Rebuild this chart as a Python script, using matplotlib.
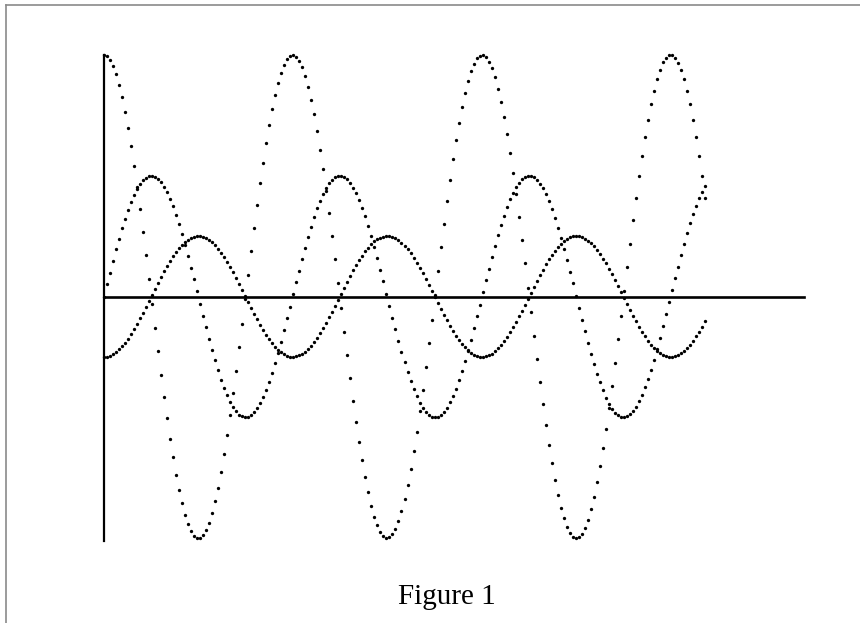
import numpy as np
import matplotlib
matplotlib.use("Agg")
import matplotlib.pyplot as plt
from matplotlib.lines import Line2D

# ---- data ----
# the three dotted waves over t = 0 .. 20 (about 3.18 periods), sampled every 0.1
t_start, t_stop, t_step = 0.0, 20.0, 0.1
amplitudes = [4.0, 2.0, 1.0]          # large, medium, small wave
wave_kinds = ["cos", "sin", "-cos"]   # large starts at max, medium at 0 rising, small at min
caption = "Figure 1"
x_axis_end = 23.3
y_axis_bounds = (-4.05, 4.0)

t = np.arange(t_start, t_stop + t_step / 2, t_step)
kind_funcs = {"cos": np.cos, "sin": np.sin, "-cos": lambda v: -np.cos(v)}

W, H, DPI = 860, 623, 100
fig = plt.figure(figsize=(W / DPI, H / DPI), dpi=DPI)
ax = fig.add_axes([0, 0, 1, 1])

# pixel mapping: t=0 -> x=104 px, 30.05 px per unit; v=0 -> y=296.5 px, 60.375 px per unit
px_per_t = 30.05
px_per_v = 60.375
x0_px, y0_px = 104.0, 296.5
ax.set_xlim(-x0_px / px_per_t, (W - x0_px) / px_per_t)
ax.set_ylim((y0_px - H) / px_per_v, y0_px / px_per_v)

for amp, kind in zip(amplitudes, wave_kinds):
    ax.plot(t, amp * kind_funcs[kind](t), linestyle="none", marker="o",
            markersize=2.4, markeredgewidth=0, color="black")

# axes lines through the origin
for side in ["top", "right"]:
    ax.spines[side].set_visible(False)
ax.spines["left"].set_position(("data", 0))
ax.spines["bottom"].set_position(("data", 0))
ax.spines["left"].set_bounds(*y_axis_bounds)
ax.spines["bottom"].set_bounds(0, x_axis_end)
ax.spines["left"].set_linewidth(1.6)
ax.spines["bottom"].set_linewidth(1.9)
ax.set_xticks([])
ax.set_yticks([])
ax.patch.set_alpha(0)

# page frame (scan border)
fig.add_artist(Line2D([5.5 / W, 5.5 / W], [0, 1 - 4.5 / H], transform=fig.transFigure,
                      color="#8a8a8a", linewidth=1.2))
fig.add_artist(Line2D([5.5 / W, 1], [1 - 4.5 / H, 1 - 4.5 / H], transform=fig.transFigure,
                      color="#8a8a8a", linewidth=1.2))

fig.text(447 / W, 1 - 604 / H, caption, ha="center", va="baseline",
         fontsize=21, family=["Liberation Serif", "DejaVu Serif"])

fig.savefig("out.png", dpi=DPI, facecolor="white")
